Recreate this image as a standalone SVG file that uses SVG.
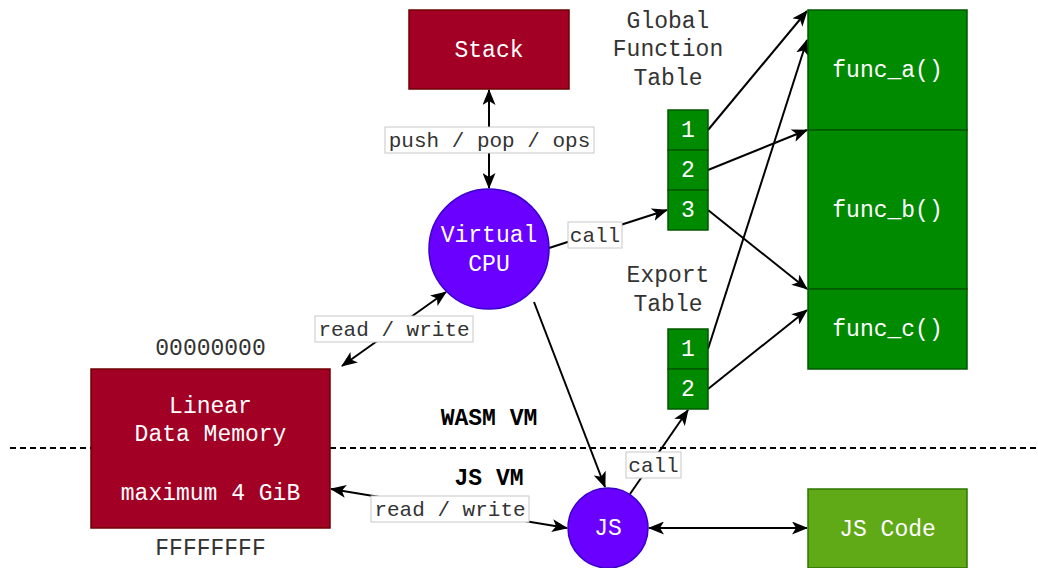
<svg xmlns="http://www.w3.org/2000/svg" width="1038" height="568" viewBox="0 0 1038 568">
  <style>
    .nodetxt { font-family: "Liberation Mono", "Courier New", monospace; font-size: 23px; fill: #ffffff; text-anchor: middle; dominant-baseline: central; }
    .plain { font-family: "Liberation Mono", "Courier New", monospace; font-size: 23px; fill: #333333; text-anchor: middle; dominant-baseline: central; }
    .bold { font-family: "Liberation Mono", "Courier New", monospace; font-size: 23px; font-weight: bold; fill: #000000; text-anchor: middle; dominant-baseline: central; }
    .lbl { font-family: "Liberation Mono", "Courier New", monospace; font-size: 21px; fill: #333333; text-anchor: middle; dominant-baseline: central; }
    .lblbox { fill: #ffffff; stroke: #c8c8c8; stroke-width: 1; }
    .red { fill: #a20025; stroke: #6f0000; stroke-width: 1.5; }
    .violet { fill: #6a00ff; stroke: #3700cc; stroke-width: 1.5; }
    .green { fill: #008a00; stroke: #005700; stroke-width: 1.5; }
    .lime { fill: #60a917; stroke: #2d7600; stroke-width: 1.5; }
    .edge { fill: none; stroke: #000000; stroke-width: 2; }
    .one { marker-end: url(#arr); }
    .both { marker-start: url(#arr); marker-end: url(#arr); }
  </style>
  <defs>
    <marker id="arr" viewBox="0 0 16 13" refX="15" refY="6.5" markerWidth="16" markerHeight="13" markerUnits="userSpaceOnUse" orient="auto-start-reverse">
      <path d="M0,0 L16,6.5 L0,13 L4,6.5 z" fill="#000000"/>
    </marker>
  </defs>

  <rect width="1038" height="568" fill="#ffffff"/>

  <!-- boundary between the two virtual machines -->
  <line x1="10" y1="448" x2="1036" y2="448" stroke="#000000" stroke-width="2" stroke-dasharray="6 4"/>

  <!-- connectors -->
  <g id="connectors">
    <line class="edge both" x1="489" y1="90" x2="489" y2="188"/>
    <line class="edge one" x1="549" y1="248" x2="667" y2="210"/>
    <line class="edge both" x1="446" y1="292" x2="342" y2="366"/>
    <line class="edge one" x1="534" y1="302" x2="605" y2="487"/>
    <line class="edge one" x1="708" y1="130" x2="807" y2="11"/>
    <line class="edge one" x1="708" y1="170" x2="807" y2="130"/>
    <line class="edge one" x1="708" y1="210" x2="807" y2="289"/>
    <line class="edge one" x1="708" y1="349" x2="807" y2="40"/>
    <line class="edge one" x1="708" y1="389" x2="807" y2="310"/>
    <line class="edge one" x1="630" y1="494" x2="688" y2="410"/>
    <line class="edge both" x1="331" y1="489" x2="567" y2="528"/>
    <line class="edge both" x1="649" y1="528" x2="807" y2="528"/>

    <rect class="lblbox" x="385" y="127" width="209" height="26"/>
    <text class="lbl" x="489.5" y="141">push / pop / ops</text>
    <rect class="lblbox" x="568" y="222" width="54" height="26"/>
    <text class="lbl" x="595" y="236">call</text>
    <rect class="lblbox" x="315" y="316" width="158" height="26"/>
    <text class="lbl" x="394" y="330">read / write</text>
    <rect class="lblbox" x="626" y="452" width="55" height="26"/>
    <text class="lbl" x="653.5" y="466">call</text>
    <rect class="lblbox" x="371" y="496" width="158" height="26"/>
    <text class="lbl" x="450" y="510">read / write</text>
  </g>

  <g id="stack">
    <rect class="red" x="409" y="10" width="160" height="79"/>
    <text class="nodetxt" x="489" y="50.5">Stack</text>
  </g>

  <g id="virtual-cpu">
    <circle class="violet" cx="489" cy="249" r="60"/>
    <text class="nodetxt" x="489" y="236">Virtual</text>
    <text class="nodetxt" x="489" y="265">CPU</text>
  </g>

  <g id="global-function-table">
    <text class="plain" x="668" y="22">Global</text>
    <text class="plain" x="668" y="50">Function</text>
    <text class="plain" x="668" y="79">Table</text>
    <rect class="green" x="668" y="110" width="40" height="40"/>
    <text class="nodetxt" x="688" y="131">1</text>
    <rect class="green" x="668" y="150" width="40" height="40"/>
    <text class="nodetxt" x="688" y="171">2</text>
    <rect class="green" x="668" y="190" width="40" height="40"/>
    <text class="nodetxt" x="688" y="211">3</text>
  </g>

  <g id="export-table">
    <text class="plain" x="668" y="276">Export</text>
    <text class="plain" x="668" y="305">Table</text>
    <rect class="green" x="668" y="329" width="40" height="40"/>
    <text class="nodetxt" x="688" y="350">1</text>
    <rect class="green" x="668" y="369" width="40" height="40"/>
    <text class="nodetxt" x="688" y="390">2</text>
  </g>

  <g id="func-a">
    <rect class="green" x="808" y="10" width="159" height="120"/>
    <text class="nodetxt" x="887.5" y="71">func_a()</text>
  </g>
  <g id="func-b">
    <rect class="green" x="808" y="130" width="159" height="159"/>
    <text class="nodetxt" x="887.5" y="210.5">func_b()</text>
  </g>
  <g id="func-c">
    <rect class="green" x="808" y="289" width="159" height="80"/>
    <text class="nodetxt" x="887.5" y="330">func_c()</text>
  </g>

  <g id="linear-memory">
    <text class="plain" x="210.5" y="349">00000000</text>
    <rect class="red" x="91" y="369" width="239" height="159"/>
    <text class="nodetxt" x="210.5" y="407">Linear</text>
    <text class="nodetxt" x="210.5" y="435">Data Memory</text>
    <text class="nodetxt" x="210.5" y="494">maximum 4 GiB</text>
    <text class="plain" x="210.5" y="549">FFFFFFFF</text>
  </g>

  <g id="vm-labels">
    <text class="bold" x="489" y="419">WASM VM</text>
    <text class="bold" x="489" y="479">JS VM</text>
  </g>

  <g id="js">
    <circle class="violet" cx="608" cy="528" r="40"/>
    <text class="nodetxt" x="608" y="529">JS</text>
  </g>

  <g id="js-code">
    <rect class="lime" x="808" y="489" width="159" height="79"/>
    <text class="nodetxt" x="887.5" y="529.5">JS Code</text>
  </g>
</svg>
